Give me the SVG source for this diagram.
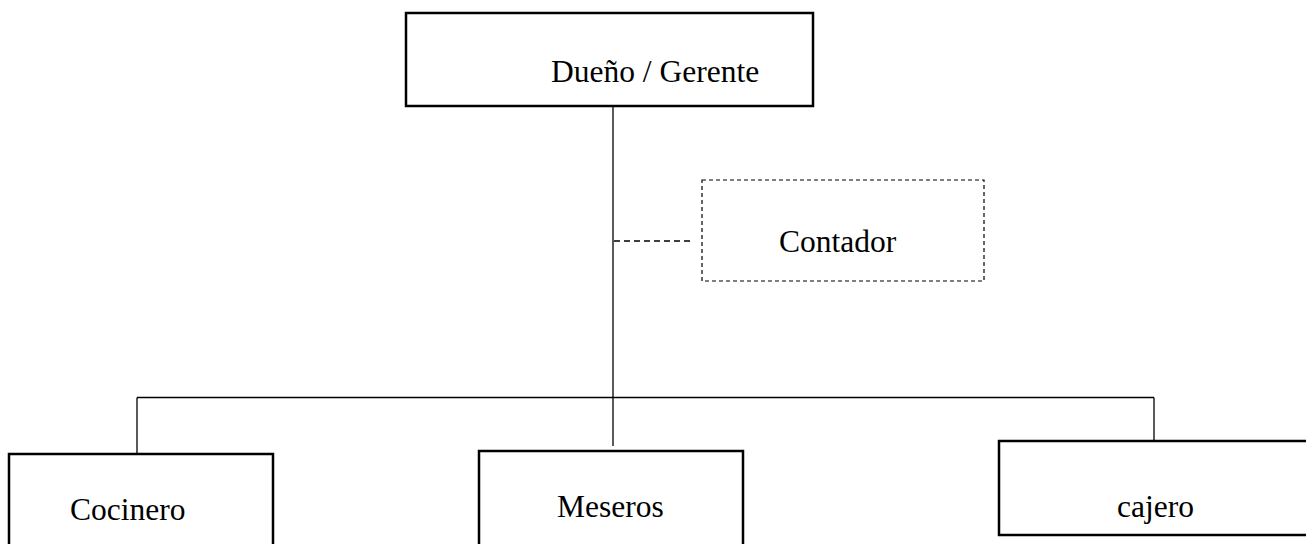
<svg xmlns="http://www.w3.org/2000/svg" width="1306" height="544" viewBox="0 0 1306 544">
<style>
.box{fill:#fff;stroke:#000;stroke-width:2.5}
.dbox{fill:#fff;stroke:#000;stroke-width:1.2;stroke-dasharray:4 3}
.ln{fill:none;stroke:#000;stroke-width:1.3}
.dl{fill:none;stroke:#000;stroke-width:1.5;stroke-dasharray:6 4}
.t{font-family:"Liberation Serif","Times New Roman",serif;font-size:31.5px;fill:#000}
</style>
<rect width="1306" height="544" fill="#fff"/>
<g id="connectors">
<path class="ln" d="M613 106 V446"/>
<path class="ln" d="M137 397.5 H1154"/>
<path class="ln" d="M137 397.5 V454"/>
<path class="ln" d="M1154 397.5 V441"/>
<path class="dl" d="M614 241 H691"/>
</g>
<g id="gerente">
<rect class="box" x="406" y="13" width="407" height="93"/>
<text class="t" x="551" y="82">Dueño / Gerente</text>
</g>
<g id="contador">
<rect class="dbox" x="702" y="180" width="282" height="101"/>
<text class="t" x="779" y="252">Contador</text>
</g>
<g id="cocinero">
<rect class="box" x="9" y="454" width="264" height="100"/>
<text class="t" x="70" y="520">Cocinero</text>
</g>
<g id="meseros">
<rect class="box" x="479" y="451" width="264" height="100"/>
<text class="t" x="557" y="517">Meseros</text>
</g>
<g id="cajero">
<rect class="box" x="999" y="441" width="320" height="94"/>
<text class="t" x="1117" y="517">cajero</text>
</g>
</svg>
